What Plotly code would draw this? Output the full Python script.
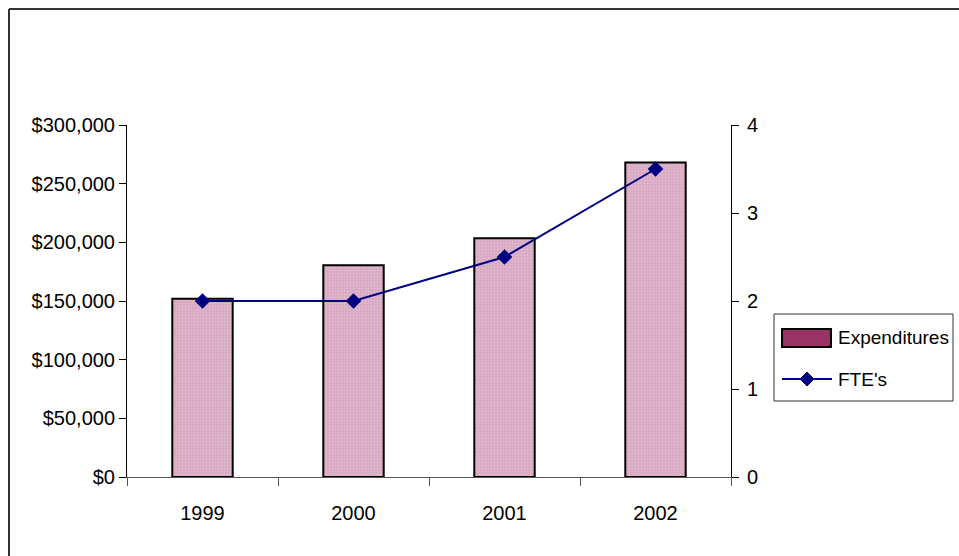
import plotly.graph_objects as go

# chart data
YEARS = ["1999", "2000", "2001", "2002"]
EXPENDITURES = [152000, 180500, 203500, 268000]
FTES = [2, 2, 2.5, 3.5]

W, H = 959, 556
PX0, PX1, PY0, PY1 = 127, 731, 125, 477   # plot area in pixels
L, R, T, B = PX0, W - PX1, PY0, H - PY1
pw, ph = PX1 - PX0, PY1 - PY0


def px(x):
    return (x - PX0) / pw


def py(y):
    return (PY1 - y) / ph


font_family = "Liberation Sans, Arial, sans-serif"

fig = go.Figure()

fig.add_trace(go.Bar(
    x=YEARS, y=EXPENDITURES, name="Expenditures",
    width=0.4, showlegend=False,
    marker=dict(
        color="#d8a8c2",
        line=dict(color="#000000", width=2),
        pattern=dict(shape=".", fgcolor="#ecd0de", bgcolor="#d8a8c2", size=3, solidity=0.3),
    ),
))

fig.add_trace(go.Scatter(
    x=YEARS, y=FTES, name="FTE's", yaxis="y2",
    mode="lines+markers", showlegend=False,
    line=dict(color="#000080", width=2),
    marker=dict(symbol="diamond", size=12, color="#000080"),
))

# outer chart frame (left and top edges visible)
fl, ft = 9, 9
fig.add_shape(type="line", xref="paper", yref="paper", x0=px(fl), x1=px(fl),
              y0=py(600), y1=py(ft), line=dict(color="#333333", width=2))
fig.add_shape(type="line", xref="paper", yref="paper", x0=px(fl), x1=px(1000),
              y0=py(ft), y1=py(ft), line=dict(color="#333333", width=2))

# legend drawn by hand to match the wide swatch of the original
fig.add_shape(type="rect", xref="paper", yref="paper",
              x0=px(774), x1=px(953), y0=py(401), y1=py(314),
              line=dict(color="#333333", width=1), fillcolor="white")
fig.add_shape(type="rect", xref="paper", yref="paper",
              x0=px(782), x1=px(831), y0=py(347), y1=py(329),
              line=dict(color="#000000", width=2), fillcolor="#993366")
fig.add_shape(type="line", xref="paper", yref="paper",
              x0=px(782), x1=px(832), y0=py(379), y1=py(379),
              line=dict(color="#000080", width=2))
cx, cy, d = 807, 379, 7
fig.add_shape(type="path", xref="paper", yref="paper",
              path=(f"M {px(cx)},{py(cy - d)} L {px(cx + d)},{py(cy)} "
                    f"L {px(cx)},{py(cy + d)} L {px(cx - d)},{py(cy)} Z"),
              line=dict(color="#000080", width=1), fillcolor="#000080")
fig.add_annotation(x=px(836), y=py(337), xref="paper", yref="paper",
                   text="Expenditures", showarrow=False, xanchor="left", yanchor="middle",
                   font=dict(family=font_family, size=19, color="#000000"))
fig.add_annotation(x=px(836), y=py(379), xref="paper", yref="paper",
                   text="FTE's", showarrow=False, xanchor="left", yanchor="middle",
                   font=dict(family=font_family, size=19, color="#000000"))

fig.update_layout(
    width=W, height=H,
    margin=dict(l=L, r=R, t=T, b=B, pad=0),
    paper_bgcolor="white", plot_bgcolor="white",
    font=dict(family=font_family, size=20, color="#000000"),
    bargap=0.6,
    showlegend=False,
    xaxis=dict(
        type="category", tickson="boundaries",
        showline=True, linecolor="#555555", linewidth=1,
        ticks="outside", ticklen=8, tickcolor="#555555",
        ticklabelstandoff=18,
        showgrid=False, zeroline=False,
    ),
    yaxis=dict(
        range=[0, 300000], dtick=50000,
        tickprefix="$", tickformat=",d",
        showline=True, linecolor="#000000", linewidth=1,
        ticks="outside", ticklen=7, tickcolor="#000000",
        showgrid=False, zeroline=False,
    ),
    yaxis2=dict(
        range=[0, 4], dtick=1, overlaying="y", side="right",
        showline=True, linecolor="#000000", linewidth=1,
        ticks="outside", ticklen=7, tickcolor="#000000",
        ticklabelstandoff=4,
        showgrid=False, zeroline=False,
    ),
)

# drop the default body margin so the figure fills the window
fig.write_html("out.html", config=dict(displayModeBar=False),
               post_script="document.body.style.margin='0';document.body.style.overflow='hidden';")
